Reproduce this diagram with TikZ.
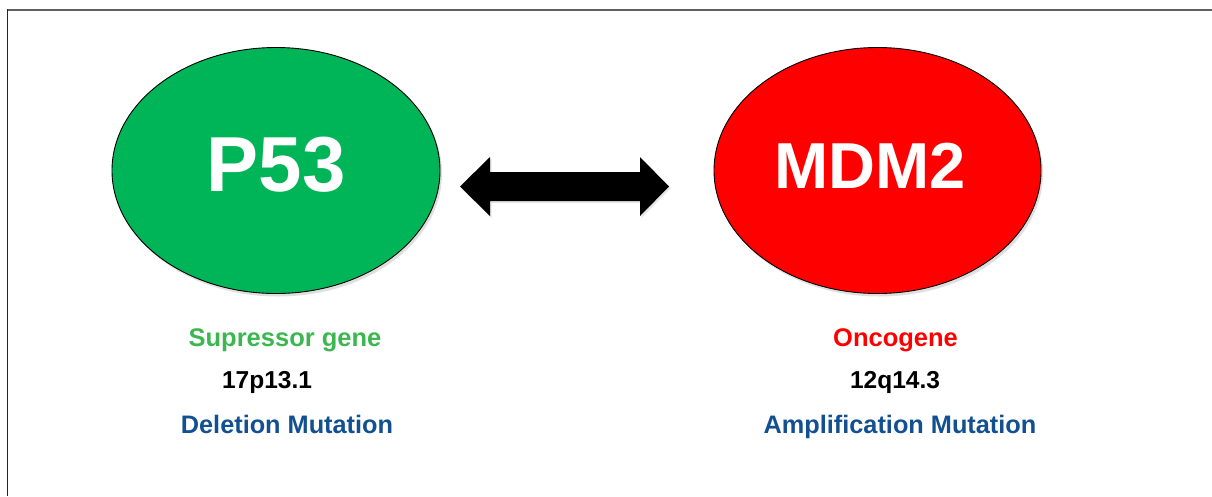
\documentclass[tikz,border=0pt]{standalone}
\usepackage{fontspec}
\setmainfont{Liberation Sans}
\usetikzlibrary{shadows,shapes.geometric}
\definecolor{ovgreen}{RGB}{0,180,88}
\definecolor{ovred}{RGB}{255,0,0}
\definecolor{lblgreen}{RGB}{60,183,80}
\definecolor{lblblue}{RGB}{18,80,145}
\definecolor{framegray}{RGB}{95,95,95}
\tikzset{
  gene/.style={ellipse, draw=black, line width=0.9pt, inner sep=0pt,
    minimum width=328pt, minimum height=246pt,
    drop shadow={opacity=0.25, shadow xshift=2pt, shadow yshift=-3pt}},
  genename/.style={text=white, font=\bfseries, anchor=center},
  kind/.style={font=\bfseries\fontsize{25.5}{28}\selectfont, anchor=base},
  locus/.style={font=\bfseries\fontsize{24.5}{28}\selectfont, text=black, anchor=base},
  mut/.style={font=\bfseries\fontsize{25.3}{28}\selectfont, text=lblblue, anchor=base},
}
\begin{document}
\begin{tikzpicture}[x=1pt, y=-1pt]
\useasboundingbox (0,0) rectangle (1212,496);
% frame
\draw[framegray, line width=2pt] (7,9.5) -- (1212,9.5);
\draw[black!85, line width=1.4pt] (7.5,9) -- (7.5,496);
% genes
\node[gene, fill=ovgreen] (p53) at (276,170.5) {};
\node[gene, fill=ovred, minimum width=327pt] (mdm2) at (877.5,170.5) {};
\node[genename] (p53t) at (276,165) {\fontsize{78}{80}\selectfont P53};
\node[genename] (mdm2t) at (870,165.5) {\fontsize{65}{68}\selectfont MDM2};
% double arrow
\coordinate (la) at (460,186.5);
\coordinate (ra) at (669,186.5);
\fill[black, drop shadow={opacity=0.2, shadow xshift=1.5pt, shadow yshift=-2pt}]
  (la) -- ++(30,-29.5) -- ++(0,15) -- (640,172) -- ++(0,-15) -- (ra)
  -- (640,216) -- ++(0,-15) -- (490,201) -- ++(0,15) -- cycle;
% labels
\node[kind, text=lblgreen] (sup) at (285,346.5) {Supressor gene};
\node[locus] (l17) at (267,388) {17p13.1};
\node[mut] (del) at (287,433) {Deletion Mutation};
\node[kind, text=ovred] (onc) at (895.5,346.5) {Oncogene};
\node[locus] (l12) at (895,388) {12q14.3};
\node[mut] (amp) at (900,433) {Amplification Mutation};
\end{tikzpicture}
\end{document}
